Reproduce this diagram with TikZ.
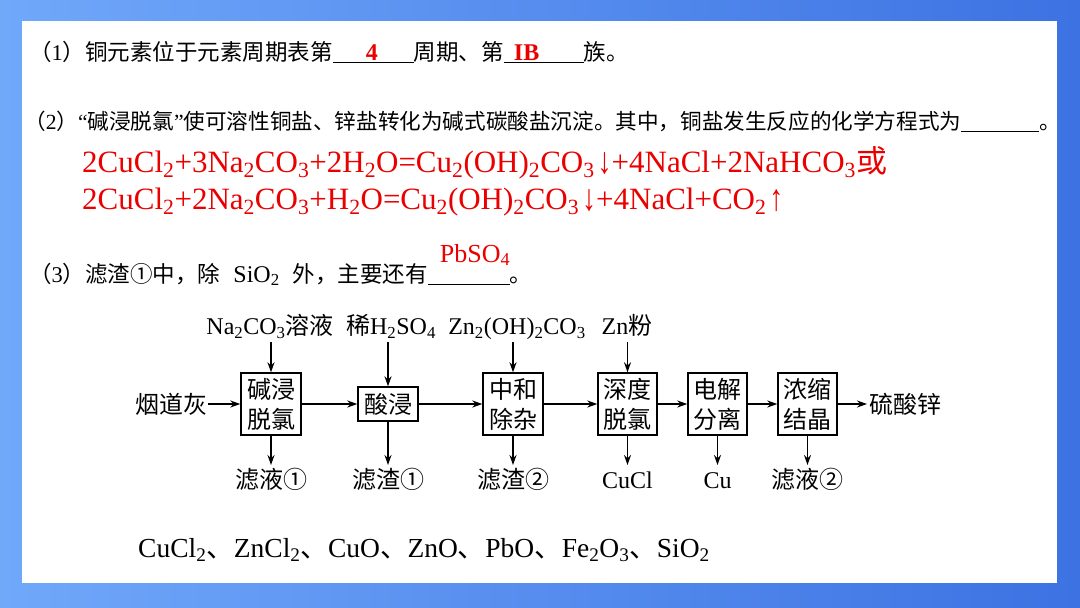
\documentclass[tikz,border=0pt]{standalone}
\usepackage{fontspec}
\usepackage{graphicx}
\setmainfont{Liberation Serif}
\newfontfamily\cjk{Noto Sans CJK SC}
\usetikzlibrary{arrows.meta}
\newcommand\zh[1]{{\cjk #1}}
\newcommand\csub[1]{\textsubscript{#1}}
\newcommand\blankline[2]{\rlap{\rule[-3pt]{#1}{1.2pt}}\makebox[#1][l]{#2}}
\newcommand\darr{\kern3pt\raisebox{-1pt}{\scalebox{0.9}[1.2]{↓}}}
\newcommand\uarr{\kern3pt\raisebox{-1pt}{\scalebox{0.9}[1.2]{↑}}}
\definecolor{bgl}{RGB}{112,168,250}
\definecolor{bgr}{RGB}{60,114,226}
\definecolor{ans}{RGB}{235,0,0}
\begin{document}
\begin{tikzpicture}[x=1pt,y=-1pt,
  box/.style={draw, line width=1.4pt, inner sep=0pt, minimum width=60pt, align=center, font=\cjk\fontsize{24}{30}\selectfont},
  arr/.style={line width=1.3pt, -{Stealth[length=10pt,width=7pt]}},
  lab/.style={inner sep=0pt, font=\fontsize{24}{28}\selectfont},
  txt/.style={inner sep=0pt, anchor=base west, font=\fontsize{22.5}{26}\selectfont},
  eq/.style={inner sep=0pt, anchor=base west, text=ans, font=\fontsize{31}{36}\selectfont}]
\useasboundingbox (0,0) rectangle (1080,608);
\shade[left color=bgl, right color=bgr] (0,0) rectangle (1080,608);
\fill[white] (22,21) rectangle (1057,583);

% question texts
\node[txt] (q1) at (29,60) {\zh{（}1\zh{）铜元素位于元素周期表第}\blankline{81pt}{\hspace{33pt}\textcolor{ans}{\fontsize{24}{28}\selectfont\bfseries 4}}\zh{周期、第}\blankline{80pt}{\hspace{10pt}\textcolor{ans}{\fontsize{24}{28}\selectfont\bfseries IB}}\zh{族。}};
\node[txt, font=\fontsize{21.6}{26}\selectfont] (q2) at (24,129) {\zh{（}2\zh{）}“\zh{碱浸脱氯}”\zh{使可溶性铜盐、锌盐转化为碱式碳酸盐沉淀。其中，铜盐发生反应的化学方程式为}\blankline{78pt}{}\zh{。}};
\node[eq] (e1) at (82,172) {2CuCl\csub{2}+3Na\csub{2}CO\csub{3}+2H\csub{2}O=Cu\csub{2}(OH)\csub{2}CO\csub{3}\darr+4NaCl+2NaHCO\csub{3}\zh{或}};
\node[eq] (e2) at (82,209) {2CuCl\csub{2}+2Na\csub{2}CO\csub{3}+H\csub{2}O=Cu\csub{2}(OH)\csub{2}CO\csub{3}\darr+4NaCl+CO\csub{2}\uarr};
\node[txt] (q3) at (29,282) {\zh{（}3\zh{）滤渣①中，除}\hspace{13pt}{\fontsize{24}{26}\selectfont SiO\csub{2}}\hspace{13pt}\zh{外，主要还有}\blankline{82pt}{}\zh{。}};
\node[inner sep=0pt, anchor=base, text=ans, font=\fontsize{26}{30}\selectfont] (a3) at (475,262) {PbSO\csub{4}};

% flowchart
\node[box, minimum height=62pt] (b1) at (271,404) {碱浸\\脱氯};
\node[box, minimum height=34pt] (b2) at (388,404) {酸浸};
\node[box, minimum height=62pt] (b3) at (513,404) {中和\\除杂};
\node[box, minimum height=62pt, minimum width=59pt] (b4) at (627.5,404) {深度\\脱氯};
\node[box, minimum height=62pt, minimum width=59pt] (b5) at (717.5,404) {电解\\分离};
\node[box, minimum height=62pt, minimum width=59pt] (b6) at (807.5,404) {浓缩\\结晶};

\node[lab, anchor=east, outer sep=1pt] (src) at (208,404) {\zh{烟道灰}};
\node[lab, anchor=west, inner xsep=2pt] (dst) at (867,404) {\zh{硫酸锌}};

\draw[arr] (src.east) -- (b1.west);
\draw[arr] (b1.east) -- (b2.west);
\draw[arr] (b2.east) -- (b3.west);
\draw[arr] (b3.east) -- (b4.west);
\draw[arr] (b4.east) -- (b5.west);
\draw[arr] (b5.east) -- (b6.west);
\draw[arr] (b6.east) -- (dst.west);

\node[lab, anchor=south, text depth=7pt] (t1) at (270,342) {Na\csub{2}CO\csub{3}\zh{溶液}};
\node[lab, anchor=south, text depth=7pt] (t2) at (391,342) {\zh{稀}H\csub{2}SO\csub{4}};
\node[lab, anchor=south, text depth=7pt] (t3) at (517,342) {Zn\csub{2}(OH)\csub{2}CO\csub{3}};
\node[lab, anchor=south, text depth=7pt] (t4) at (627,342) {Zn\zh{粉}};
\draw[arr] (t1.south -| b1.north) -- (b1.north);
\draw[arr] (t2.south -| b2.north) -- (b2.north);
\draw[arr] (t3.south -| b3.north) -- (b3.north);
\draw[arr] (t4.south -| b4.north) -- (b4.north);

\node[lab, anchor=north, text height=23pt] (o1) at (271,465) {\zh{滤液①}};
\node[lab, anchor=north, text height=23pt] (o2) at (388,465) {\zh{滤渣①}};
\node[lab, anchor=north, text height=23pt] (o3) at (513,465) {\zh{滤渣②}};
\node[lab, anchor=north, text height=23pt] (o4) at (627.5,465) {CuCl};
\node[lab, anchor=north, text height=23pt] (o5) at (717.5,465) {Cu};
\node[lab, anchor=north, text height=23pt] (o6) at (807.5,465) {\zh{滤液②}};
\draw[arr] (b1.south) -- (o1.north);
\draw[arr] (b2.south) -- (o2.north);
\draw[arr] (b3.south) -- (o3.north);
\draw[arr] (b4.south) -- (o4.north);
\draw[arr] (b5.south) -- (o5.north);
\draw[arr] (b6.south) -- (o6.north);

\node[anchor=base west, inner sep=0pt, font=\fontsize{27.5}{32}\selectfont] (fm) at (138,557) {CuCl\csub{2}\zh{、}ZnCl\csub{2}\zh{、}CuO\zh{、}ZnO\zh{、}PbO\zh{、}Fe\csub{2}O\csub{3}\zh{、}SiO\csub{2}};
\end{tikzpicture}
\end{document}
